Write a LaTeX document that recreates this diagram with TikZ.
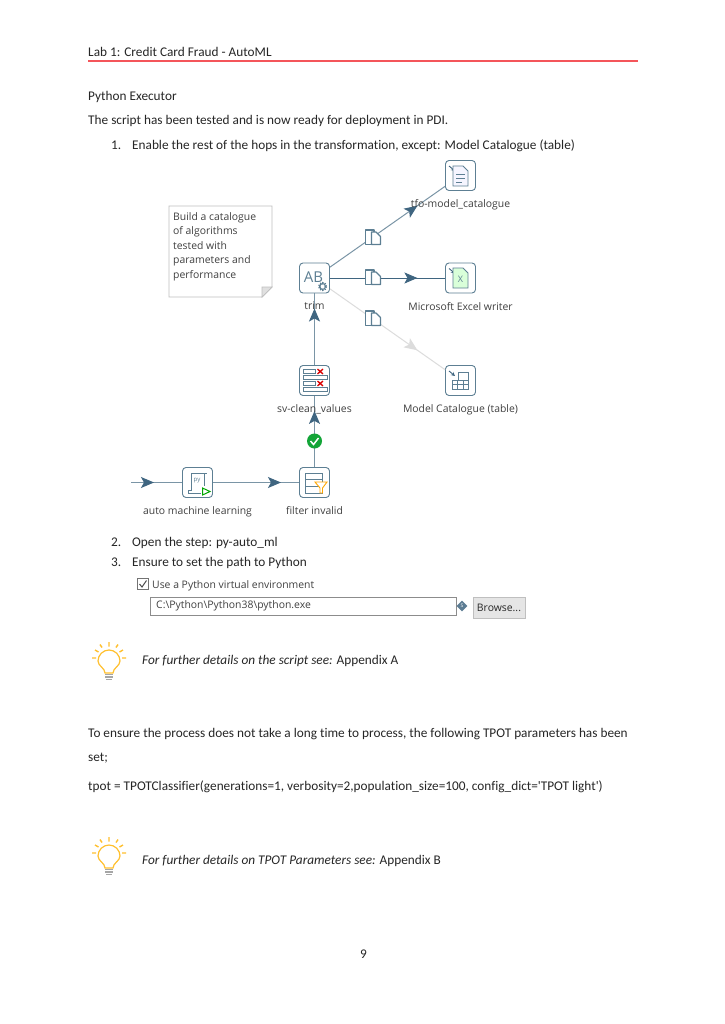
\documentclass[tikz,border=0pt]{standalone}
\usepackage{fontspec}
\newfontfamily\bodyfont[RawFeature={-liga;-clig}]{Carlito}
\newfontfamily\uifont{Open Sans}
\usetikzlibrary{positioning,arrows.meta,decorations.markings,shapes.geometric}

\definecolor{hopblue}{HTML}{3F6580}
\definecolor{hopline}{HTML}{7A95A6}
\definecolor{iconline}{HTML}{5D7F93}
\definecolor{hopoff}{HTML}{DCDCDC}
\definecolor{bulbyellow}{HTML}{FFC02E}
\definecolor{headerrule}{HTML}{F4555A}
\definecolor{okgreen}{HTML}{13A538}

\tikzset{
    body/.style={anchor=base west, inner sep=0pt, font=\bodyfont\fontsize{13.28}{16}\selectfont, text=black!85},
    steplabel/.style={inner sep=0pt, font=\uifont\fontsize{10.4}{12}\selectfont, text=black!75},
    uitext/.style={inner sep=0pt, font=\uifont\fontsize{10.4}{12}\selectfont, text=black!75},
    stepbox/.style={draw=iconline, line width=0.9pt, rounded corners=3.5pt, fill=white,
        minimum width=30pt, minimum height=30pt, inner sep=0pt},
    tiphead/.style n args={2}{decoration={markings, mark=at position #1 with
        {\arrow[color=#2]{Stealth[length=13pt,width=11pt,inset=3pt]}}}, postaction={decorate}},
    hop/.style={draw=hopline, line width=1pt, tiphead={#1}{hopblue}},
    hopoffline/.style={draw=hopoff, line width=1pt, tiphead={#1}{hopoff}},
    pics/inmark/.style={code={
        \draw[hopblue, line width=0.9pt, -{Stealth[length=4pt,width=4pt]}] (-11.5,-9.5) -- (-5.5,-4.5);
    }},
    pics/copyicon/.style={code={
        \draw[iconline, line width=1.1pt, fill=white, line join=round] (-7.5,-7) -- (1,-7) -- (1,7.5) -- (-7.5,7.5) -- cycle;
        \draw[iconline, line width=1.1pt, fill=white, line join=round] (-1.5,-5) -- (3,-5) -- (7.5,-0.5) -- (7.5,7.5) -- (-1.5,7.5) -- cycle;
    }},
    pics/bulb/.style={code={
        \draw[bulbyellow, line width=1.2pt] (-4,12) .. controls (-4,7) and (-11,5) .. (-11,0)
            .. controls (-11,-6) and (-6,-11) .. (0,-11)
            .. controls (6,-11) and (11,-6) .. (11,0)
            .. controls (11,5) and (4,7) .. (4,12) -- cycle;
        \draw[bulbyellow, line width=1.4pt] (0,-19) -- (0,-14.5) (-9,-16.5) -- (-7,-13.5) (9,-16.5) -- (7,-13.5)
            (-14,-11) -- (-10.5,-9) (14,-11) -- (10.5,-9) (-17,-3) -- (-13,-3) (17,-3) -- (13,-3);
        \draw[gray!70, line width=1.3pt] (-4,13.5) -- (4,13.5) (-4,16) -- (4,16) (-3,18.5) -- (3,18.5);
    }}
}

\begin{document}
\begin{tikzpicture}[x=1pt, y=-1pt]
    \useasboundingbox[fill=white] (0,0) rectangle (724,1024);

    % Header
    \node [body] (Header) at (88,56.5) {Lab 1: Credit Card Fraud - AutoML};
    \coordinate (RuleStart) at (88,61);
    \coordinate (RuleEnd) at (638,61);
    \draw [draw=headerrule, line width=1.2pt] (RuleStart) -- (RuleEnd);

    % Text above the diagram
    \node [body] (Title) at (88,101) {Python Executor};
    \node [body] (Intro) at (88,125) {The script has been tested and is now ready for deployment in PDI.};
    \node [body] (NumOne) at (111,150) {1.};
    \node [body] (ItemOne) at (132,150) {Enable the rest of the hops in the transformation, except: Model Catalogue (table)};

    % Note
    \draw [black!25, line width=0.9pt, fill=white] (169,206) -- (272,206) -- (272,287) -- (262,297) -- (169,297) -- cycle;
    \draw [black!25, line width=0.7pt, fill=black!12] (272,287) -- (262,287) -- (262,297) -- cycle;
    \node [
        anchor=north west,
        inner sep=0pt,
        align=left,
        font=\uifont\fontsize{10.4}{14.6}\selectfont,
        text=black!75
    ]  (NoteText) at (173,212) {Build a catalogue\\of algorithms\\tested with\\parameters and\\performance};

    % Steps
    \node [stepbox] (Catalogue) at (460.5,175.5) {};
    \node [stepbox] (Excel) at (460.5,278) {};
    \node [stepbox] (Table) at (460.5,380.5) {};
    \node [stepbox] (Trim) at (314.5,278) {};
    \node [stepbox] (Clean) at (314.5,380.5) {};
    \node [stepbox] (Filter) at (314.5,482.5) {};
    \node [stepbox] (Learning) at (197.5,482.5) {};
    \coordinate (Input) at (131,482.5);

    % Hops
    \draw [hop=0.45] (Input) -- (Learning);
    \draw [hop=0.79] (Learning) -- (Filter);
    \draw [hop=0.79] (Filter) -- (Clean);
    \draw [hop=0.79] (Clean) -- (Trim);
    \draw [hop=0.76] (Trim) -- (Catalogue);
    \draw [hop=0.76, draw=hopblue] (Trim) -- (Excel);
    \draw [hopoffline=0.76] (Trim) -- (Table);

    % Labels
    \node [steplabel, below=8.5pt of Catalogue] (CatalogueLabel) {tfo-model\_catalogue};
    \node [steplabel, below=8.5pt of Excel] (ExcelLabel) {Microsoft Excel writer};
    \node [steplabel, below=8.5pt of Table] (TableLabel) {Model Catalogue (table)};
    \node [steplabel, below=8.5pt of Trim] (TrimLabel) {trim};
    \node [steplabel, below=8.5pt of Clean] (CleanLabel) {sv-clean\_values};
    \node [steplabel, below=8.5pt of Filter] (FilterLabel) {filter invalid};
    \node [steplabel, below=8.5pt of Learning] (LearningLabel) {auto machine learning};

    % Copy marks
    \pic at (373,237) {copyicon};
    \pic at (373,277) {copyicon};
    \pic at (373,318) {copyicon};

    % Ok mark
    \node [circle, fill=okgreen, minimum size=15pt, inner sep=0pt] (OkMark) at (314.5,441) {};
    \draw [white, line width=1.5pt] (310.5,441) -- (313.5,444.5) -- (318.5,438);

    % Catalogue icon
    \pic at (Catalogue) {inmark};
    \draw [iconline, line width=0.8pt, fill=blue!4] (453,166) -- (463,166) -- (468,171) -- (468,186) -- (453,186) -- cycle;
    \draw [iconline, line width=0.7pt] (456,174) -- (465,174) (456,178) -- (465,178) (456,182) -- (462,182);

    % Excel icon
    \pic at (Excel) {inmark};
    \draw [iconline, line width=0.8pt, fill=green!15] (453,268) -- (463,268) -- (468,273) -- (468,288) -- (453,288) -- cycle;
    \node [inner sep=0pt, font=\uifont\fontsize{9}{9}\selectfont, text=iconline] (ExcelMark) at (460.5,279) {X};

    % Table icon
    \pic at (Table) {inmark};
    \draw [iconline, line width=0.8pt] (452,380) rectangle (468,389);
    \draw [iconline, line width=0.6pt] (452,384.5) -- (468,384.5) (457.5,380) -- (457.5,389) (463,380) -- (463,389);
    \draw [iconline, line width=0.8pt] (458,380) -- (458,372) -- (468,372) -- (468,380);

    % Trim icon
    \node [inner sep=0pt, font=\uifont\fontsize{15}{15}\selectfont, text=iconline] (TrimMark) at (313.5,277) {AB};
    \draw [iconline, line width=1pt, fill=white] (322.5,286.5) circle (3);
    \draw [iconline, line width=2.4pt, dash pattern=on 1pt off 1.2pt] (322.5,286.5) circle (3.4);

    % Clean icon
    \draw [iconline, line width=0.8pt] (303,369.5) rectangle (315,373.5);
    \draw [iconline, line width=0.8pt] (303,375.5) rectangle (327,379.5);
    \draw [iconline, line width=0.8pt] (303,381.5) rectangle (315,385.5);
    \draw [iconline, line width=0.8pt] (303,387.5) rectangle (327,391.5);
    \draw [red!85!black, line width=1.3pt] (317.5,369) -- (323,374) (323,369) -- (317.5,374) (317.5,381) -- (323,386) (323,381) -- (317.5,386);

    % Filter icon
    \draw [iconline, line width=0.9pt] (305,473) rectangle (322,493);
    \draw [iconline, line width=0.7pt] (305,479) -- (322,479) (305,486) -- (322,486);
    \draw [orange!70!yellow, line width=0.9pt, fill=white] (315,482) -- (327,482) -- (322.5,488) -- (322.5,493) -- (320,493) -- (320,488) -- cycle;

    % Learning icon
    \draw [iconline, line width=0.9pt, fill=white] (191,473) -- (207,473) (204,473) -- (204,486) (191,473) -- (191,490) -- (188,490) -- (188,493) -- (201,493);
    \node [inner sep=0pt, font=\uifont\fontsize{6}{6}\selectfont, text=iconline] (LearningMark) at (197,481) {py};
    \draw [green!65!black, line width=1pt, fill=white] (202.5,488) -- (210,491.5) -- (202.5,495) -- cycle;

    % Steps in the list
    \node [body] (NumTwo) at (111,546.5) {2.};
    \node [body] (ItemTwo) at (132,546.5) {Open the step: py-auto\_ml};
    \node [body] (NumThree) at (111,566.5) {3.};
    \node [body] (ItemThree) at (132,566.5) {Ensure to set the path to Python};

    % Python settings
    \node [draw=black!55, line width=0.8pt, minimum size=11pt, inner sep=0pt] (CheckBox) at (142.5,584) {};
    \draw [black!70, line width=1pt] (139.5,584) -- (142,587) -- (146.5,580.5);
    \node [uitext, anchor=base west] (CheckText) at (152,588) {Use a Python virtual environment};
    \node [draw=black!45, line width=0.8pt, anchor=west, minimum width=306pt, minimum height=18pt, inner sep=0pt] (PathField) at (150,606) {};
    \node [uitext, anchor=west, right=6pt of PathField.west] (PathText) {C:\textbackslash Python\textbackslash Python38\textbackslash python.exe};
    \node [diamond, aspect=1, fill=hopblue!85, minimum size=11pt, inner sep=0pt, font=\uifont\fontsize{5}{5}\selectfont, text=white, right=-0.5pt of PathField] (VarMark) {S};
    \node [uitext, draw=black!25, fill=black!10, minimum width=52pt, minimum height=21pt, text=black!85] (Browse) at (499,607.5) {Browse...};

    % First tip
    \pic at (109,661) {bulb};
    \node [body] (TipOne) at (142,664.5) {\textit{For further details on the script see:} Appendix A};

    % Text below
    \node [body] (ParaOne) at (88,737.5) {To ensure the process does not take a long time to process, the following TPOT parameters has been};
    \node [body] (ParaTwo) at (88,761.5) {set;};
    \node [body] (ParaThree) at (88,790.5) {tpot = TPOTClassifier(generations=1, verbosity=2,population\_size=100, config\_dict='TPOT light')};

    % Second tip
    \pic at (109,856) {bulb};
    \node [body] (TipTwo) at (142,864.5) {\textit{For further details on TPOT Parameters see:} Appendix B};

    % Page number
    \node [body] (PageNumber) at (360,958.5) {9};
\end{tikzpicture}
\end{document}
